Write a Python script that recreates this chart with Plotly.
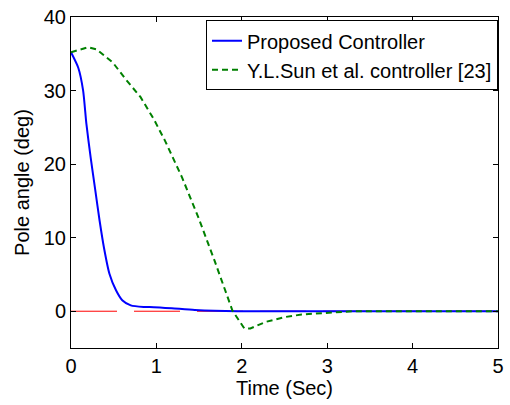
import plotly.graph_objects as go

# Proposed controller (blue)
t_prop = [0, 0.085, 0.142, 0.18, 0.23, 0.285, 0.335, 0.385, 0.45, 0.527, 0.60, 0.70, 0.85, 0.97, 1.18, 1.45, 1.95, 2.5, 3.0, 4.0, 5.0]
y_prop = [35.2, 33.1, 30.0, 25.5, 20.9, 16.4, 12.3, 8.7, 5.1, 2.85, 1.5, 0.8, 0.58, 0.55, 0.4, 0.18, 0.0, 0.0, 0.0, 0.0, 0.0]

# Y.L.Sun et al. controller [23] (green dashed)
t_sun = [0, 0.10, 0.20, 0.30, 0.49, 0.65, 0.815, 0.97, 1.10, 1.30, 1.49, 1.68, 1.89, 2.03, 2.10, 2.28, 2.5, 2.7, 2.85, 3.07, 3.3, 4.0, 5.0]
y_sun = [35.2, 35.6, 35.9, 35.6, 33.8, 31.4, 29.1, 26.1, 23.2, 18.2, 12.8, 6.9, 0.1, -2.35, -2.35, -1.45, -0.8, -0.45, -0.35, -0.2, 0.0, 0.0, 0.0]

# Zero reference
t_ref = [0, 5]
y_ref = [0, 0]

x_ticks = [0, 1, 2, 3, 4, 5]
y_ticks = [0, 10, 20, 30, 40]

FONT = "Liberation Sans, Arial, sans-serif"
FS = 20

fig = go.Figure()
fig.add_trace(go.Scatter(x=t_ref, y=y_ref, mode="lines", showlegend=False,
                         line=dict(color="red", width=1, dash="46px,17px")))
fig.add_trace(go.Scatter(x=t_prop, y=y_prop, mode="lines", name="Proposed Controller",
                         line=dict(color="#0000ff", width=2, shape="spline", smoothing=0.6)))
fig.add_trace(go.Scatter(x=t_sun, y=y_sun, mode="lines", name="Y.L.Sun et al. controller [23]",
                         line=dict(color="#008000", width=2, dash="6px,4px")))

axis_common = dict(showgrid=False, zeroline=False, showline=True, linecolor="black",
                   linewidth=1, mirror="ticks", ticks="inside", ticklen=5,
                   tickcolor="black", tickfont=dict(family=FONT, size=FS, color="black"))

fig.update_xaxes(range=[0, 5], tickvals=x_ticks,
                 title=dict(text="Time (Sec)", font=dict(family=FONT, size=FS, color="black"), standoff=2),
                 **axis_common)
fig.update_yaxes(range=[-5, 40], tickvals=y_ticks,
                 title=dict(text="Pole angle (deg)", font=dict(family=FONT, size=FS, color="black"), standoff=8),
                 **axis_common)

fig.update_layout(
    width=510, height=405,
    margin=dict(l=71, r=6, t=16, b=57),
    paper_bgcolor="white", plot_bgcolor="white",
    font=dict(family=FONT, size=FS, color="black"),
    legend=dict(x=1.0, y=0.99, xanchor="right", yanchor="top",
                bgcolor="white", bordercolor="black", borderwidth=1,
                font=dict(family=FONT, size=FS, color="black"),
                tracegroupgap=0, itemwidth=30),
)

fig.write_html("out.html")
